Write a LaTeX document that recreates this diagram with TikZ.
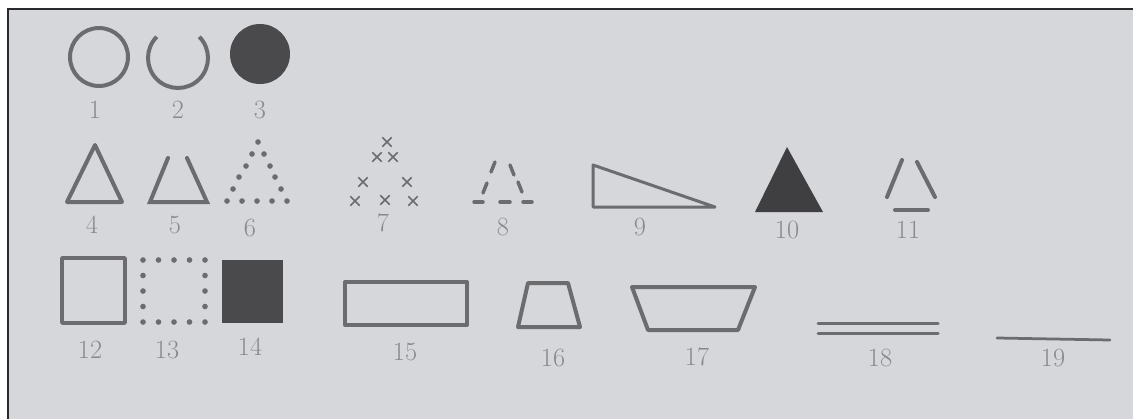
\documentclass[tikz,border=0pt]{standalone}
\usetikzlibrary{shapes.misc}
\definecolor{paper}{HTML}{D6D7DB}
\definecolor{frame}{HTML}{2A2A2C}
\definecolor{ink}{HTML}{6C6C6F}
\definecolor{inkdark}{HTML}{4A4A4D}
\definecolor{numgrey}{HTML}{8A8A8D}
\begin{document}
\begin{tikzpicture}[
	x=0.02cm, y=-0.02cm,
	outline/.style={ draw=ink, line width=0.08cm, line join=round },
	stroke/.style={ draw=ink, line width=0.08cm, line cap=round },
	fillshape/.style={ fill=inkdark, draw=none },
	dotmk/.style={ fill=ink },
	xmk/.style={ cross out, draw=ink, line width=0.9pt, inner sep=0pt, minimum size=4.5pt },
	num/.style={ text=numgrey, font=\fontsize{15}{15}\selectfont, inner sep=0pt }
]
\useasboundingbox (0,0) rectangle (1133,419);

% paper and frame
\fill[paper] (8,9) rectangle (1133,419);
\draw[frame, line width=0.05cm] (8,419) -- (8,9) -- (1133,9);

% row 1: circles
\draw[outline] (99,57) circle [radius=0.58cm];
\draw[outline] (178,58) ++(135:0.6cm) arc [start angle=135, end angle=405, radius=0.6cm];
\fill[fillshape] (260,54) circle [radius=0.6cm];
\node at (95,110) (n1) [num] {1};
\node at (178,110) (n2) [num] {2};
\node at (260,110) (n3) [num] {3};

% row 2: triangles
\draw[outline] (95,145) -- (67,202) -- (122,202) -- cycle;
\draw[stroke] (168,158) -- (150,202) -- (207,202) -- (187,158);
\foreach \p in {(258,142),(252,154),(246,166),(239,177),(233,189),(227,201),
		(264,154),(270,166),(275,177),(281,189),(287,201),
		(242,201),(257,201),(272,201)}
	\fill[dotmk] \p circle [radius=1.6pt];
\foreach \p in {(387,142),(377,157),(393,157),(363,182),(407,182),
		(355,201),(385,200),(413,201)}
	\node[xmk] at \p {};
\draw[stroke, line width=0.07cm] (495,162) -- (491,172);
\draw[stroke, line width=0.07cm] (510,165) -- (514,175);
\draw[stroke, line width=0.07cm] (487,183) -- (483,193);
\draw[stroke, line width=0.07cm] (518,182) -- (522,192);
\draw[stroke, line width=0.07cm] (474,202) -- (483,202);
\draw[stroke, line width=0.07cm] (500,202) -- (510,202);
\draw[stroke, line width=0.07cm] (523,202) -- (532,202);
\draw[outline, line width=0.06cm] (593,165) -- (593,207) -- (715,207) -- cycle;
\fill[fillshape, fill=inkdark!85!black] (787,147) -- (755,212) -- (823,212) -- cycle;
\draw[stroke] (902,160) -- (887,197);
\draw[stroke] (917,162) -- (935,197);
\draw[stroke] (895,210) -- (928,210);
\node at (92,225) (n4) [num] {4};
\node at (175,225) (n5) [num] {5};
\node at (250,228) (n6) [num] {6};
\node at (383,223) (n7) [num] {7};
\node at (503,227) (n8) [num] {8};
\node at (640,227) (n9) [num] {9};
\node at (787,230) (n10) [num] {10};
\node at (908,230) (n11) [num] {11};

% row 3: squares, quadrilaterals, lines
\draw[outline, line width=0.07cm] (62,258) rectangle (125,323);
\foreach \x in {143,158.5,174,189.5,205} {
	\fill[dotmk] (\x,260) circle [radius=1.6pt];
	\fill[dotmk] (\x,322) circle [radius=1.6pt];
}
\foreach \y in {275.5,291,306.5} {
	\fill[dotmk] (143,\y) circle [radius=1.6pt];
	\fill[dotmk] (205,\y) circle [radius=1.6pt];
}
\fill[fillshape] (222,260) rectangle (283,323);
\draw[outline] (345,282) rectangle (467,325);
\draw[outline] (528,283) -- (568,283) -- (580,327) -- (518,327) -- cycle;
\draw[outline] (632,287) -- (755,287) -- (738,330) -- (648,330) -- cycle;
\draw[stroke, line width=0.06cm] (818,323) -- (938,323);
\draw[stroke, line width=0.06cm] (818,333) -- (938,333);
\draw[stroke, line width=0.055cm] (997,338) -- (1110,340);
\node at (90,350) (n12) [num] {12};
\node at (167,350) (n13) [num] {13};
\node at (250,347) (n14) [num] {14};
\node at (405,352) (n15) [num] {15};
\node at (553,358) (n16) [num] {16};
\node at (697,357) (n17) [num] {17};
\node at (880,358) (n18) [num] {18};
\node at (1053,358) (n19) [num] {19};

\end{tikzpicture}
\end{document}
